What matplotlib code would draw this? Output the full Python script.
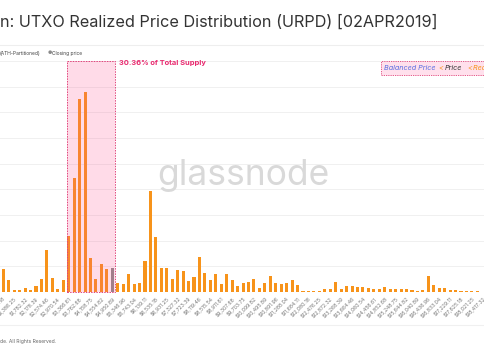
import matplotlib.pyplot as plt
from matplotlib.patches import Rectangle

# visible bins of the URPD (bin index, supply in thousand BTC)
bins = list(range(5, 94))
supply_k = [
    180, 94, 16, 16, 29, 16, 49, 99, 328, 112, 26, 96,          # 5-16
    440, 888, 1505, 1557, 267, 105, 221, 182, 188,              # 17-25
    72, 64, 141, 64, 72, 245, 784, 432, 189, 184,               # 26-35
    104, 173, 160, 82, 119, 271, 151, 94, 142, 63,              # 36-45
    137, 94, 48, 70, 80, 98, 33, 72, 121, 74,                   # 46-55
    59, 70, 92, 53, 6, 6, 6, 8, 23, 23,                         # 56-65
    80, 21, 47, 47, 37, 41, 29, 21, 26, 37,                     # 66-75
    23, 21, 21, 21, 16, 10, 18, 127, 55, 31,                    # 76-85
    31, 18, 13, 8, 4, 5, 4, 3,                                  # 86-93
]
closing_bin = 25

tick_bins = list(range(5, 94, 2))
tick_labels = [
    "$990.18", "$1,386.25", "$1,782.32", "$2,178.39", "$2,574.46",
    "$2,970.54", "$3,366.61", "$3,762.68", "$4,158.75", "$4,554.82",
    "$4,950.89", "$5,346.96", "$5,743.04", "$6,139.11", "$6,535.18",
    "$6,931.25", "$7,327.32", "$7,723.39", "$8,119.46", "$8,515.54",
    "$8,911.61", "$9,307.68", "$9,703.75", "$10,099.82", "$10,495.89",
    "$10,891.96", "$11,288.04", "$11,684.11", "$12,080.18", "$12,476.25",
    "$12,872.32", "$13,268.39", "$13,664.46", "$14,060.54", "$14,456.61",
    "$14,852.68", "$15,248.75", "$15,644.82", "$16,040.89", "$16,436.96",
    "$16,833.04", "$17,229.11", "$17,625.18", "$18,021.25", "$18,417.32",
]

W, H = 485, 360
plt.rcParams["font.family"] = ["Inter", "DejaVu Sans"]

fig = plt.figure(figsize=(W / 100, H / 100), dpi=100)

def fx(x):
    return x / W

def fy(y):
    return 1 - y / H

ax = fig.add_axes([0, fy(292), 1, (292 - 61) / H])
colors = ["#8a8a8a" if b == closing_bin else "#f7931a" for b in bins]
ax.bar(bins, supply_k, width=0.56, color=colors, zorder=2)

ax.set_xlim(4.394, 93.40)
ax.set_ylim(0, 1800)
ax.set_yticks(range(0, 1801, 200))
ax.set_yticklabels([])
ax.tick_params(axis="y", length=0)
ax.grid(axis="y", color="#f0f0f0", linewidth=0.7, zorder=0)
for s in ax.spines.values():
    s.set_visible(False)

ax.set_xticks(tick_bins)
ax.set_xticklabels(tick_labels, rotation=45, ha="right", rotation_mode="anchor",
                   fontsize=3.7, color="#777777")
ax.tick_params(axis="x", length=0, pad=3)

# highlighted supply range
ax.add_patch(Rectangle((16.75, 0), 25.5 - 16.75, 1800, facecolor="#ff4d8d",
                       alpha=0.2, edgecolor="none", zorder=3, clip_on=False))
ax.add_patch(Rectangle((16.75, 0), 25.5 - 16.75, 1800, facecolor="none",
                       edgecolor="#e0457b", linewidth=0.7, linestyle=(0, (1.5, 1.2)),
                       zorder=4, clip_on=False))
fig.text(fx(119), fy(63), "30.36% of Total Supply", fontsize=5.4, fontweight="bold",
         color="#e8296e", va="center", ha="left")

# watermark
fig.text(fx(243), fy(175), "glassnode", fontsize=25.5, color="#d9d9d9",
         ha="center", va="center", zorder=1)

# title and header
fig.text(fx(0), fy(22), "n: UTXO Realized Price Distribution (URPD) [02APR2019]",
         fontsize=11.7, color="#333333", ha="left", va="center")
fig.add_artist(plt.Line2D([0, 1], [fy(44.5), fy(44.5)], color="#eeeeee", linewidth=0.8))
fig.text(fx(0), fy(53), "(ATH-Partitioned)", fontsize=3.5, color="#444444",
         ha="left", va="center")
fig.text(fx(48), fy(53), "\u25cf", fontsize=3.5, color="#8a8a8a", ha="left", va="center")
fig.text(fx(52.5), fy(53), "Closing price", fontsize=3.5, color="#444444",
         ha="left", va="center")

# price band legend box (cut off at the right)
fig.add_artist(Rectangle((fx(381), fy(75)), fx(130), (75 - 61) / H,
                         facecolor="#ffe0ec", edgecolor="#e0457b", linewidth=0.6,
                         linestyle=(0, (1.5, 1.2)), transform=fig.transFigure))
parts = [(384, "Balanced Price", "#5b6ee1"), (438.5, "<", "#f7931a"),
         (445, "Price", "#333333"), (467, "<", "#f7931a"),
         (473, "Realized Price", "#f7931a")]
for x, s, c in parts:
    fig.text(fx(x), fy(68), s, fontsize=5.2, style="italic", color=c,
             ha="left", va="center")

# footer
fig.add_artist(plt.Line2D([0, 1], [fy(324.5), fy(324.5)], color="#f0f0f0", linewidth=0.8))
fig.text(fx(0), fy(342), "de. All Rights Reserved.", fontsize=3.6, color="#666666",
         ha="left", va="center")

fig.savefig("out.png", dpi=100)
